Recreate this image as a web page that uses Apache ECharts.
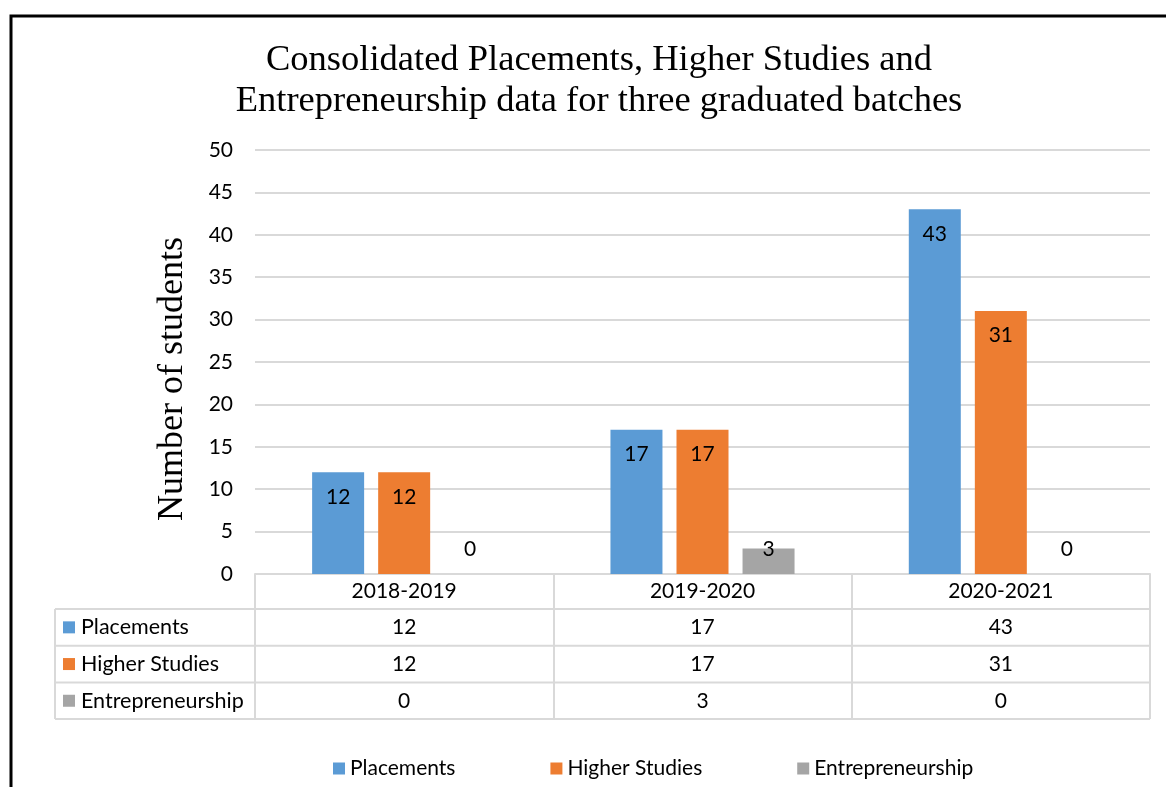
<!DOCTYPE html>
<html>
<head>
<meta charset="utf-8">
<script src="https://cdn.jsdelivr.net/npm/echarts@6/dist/echarts.min.js"></script>
<style>
  html, body { margin: 0; padding: 0; background: #fff; }
  #chart { width: 1166px; height: 787px; }
</style>
</head>
<body>
<div id="chart"></div>
<script>
var batches = ['2018-2019', '2019-2020', '2020-2021'];
var seriesNames = ['Placements', 'Higher Studies', 'Entrepreneurship'];
var placements = [12, 17, 43];
var higherStudies = [12, 17, 31];
var entrepreneurship = [0, 3, 0];
var yTicks = [0, 50, 5]; // min, max, interval

var colors = ['#5b9bd5', '#ed7d31', '#a5a5a5'];
var allValues = [placements, higherStudies, entrepreneurship];
var font = 'Lato, "Open Sans", sans-serif';
var fs = 21;
var gridLine = '#d9d9d9';

var myChart = echarts.init(document.getElementById('chart'));

var option = {
    color: colors,
    animation: false,
    title: {
        text: 'Consolidated Placements, Higher Studies and\nEntrepreneurship data for three graduated batches',
        left: 594,
        top: 35,
        textAlign: 'center',
        textStyle: {
            fontFamily: '"Liberation Serif", serif',
            fontWeight: 'normal',
            fontSize: 36.5,
            lineHeight: 41,
            color: '#000'
        }
    },
    legend: {
        data: seriesNames,
        left: 328,
        top: 753,
        itemWidth: 12,
        itemHeight: 12,
        itemGap: 95,
        icon: 'rect',
        textStyle: { fontFamily: font, fontSize: fs, color: '#000' }
    },
    grid: { left: 255, right: 16, top: 150, bottom: 213 },
    xAxis: {
        type: 'category',
        data: batches,
        axisLine: { lineStyle: { color: gridLine, width: 2 } },
        axisTick: { show: true, length: 145, lineStyle: { color: gridLine, width: 2 } },
        axisLabel: { fontFamily: font, fontSize: fs, color: '#000', margin: 7 }
    },
    yAxis: {
        type: 'value',
        min: yTicks[0],
        max: yTicks[1],
        interval: yTicks[2],
        axisLine: { show: false },
        axisTick: { show: false },
        axisLabel: { fontFamily: font, fontSize: fs, color: '#000', margin: 22 },
        splitLine: { lineStyle: { color: gridLine, width: 2 } }
    },
    series: seriesNames.map(function (name, i) {
        return {
            name: name,
            type: 'bar',
            data: allValues[i],
            barWidth: 52,
            barGap: '27%',
            label: {
                show: true,
                position: i === 2 ? 'insideBottom' : 'insideTop',
                distance: 14,
                fontFamily: font,
                fontSize: fs,
                color: '#000'
            }
        };
    })
};

myChart.setOption(option);

// data table below the plot
var rowTop = 609, rowH = 36.7, tableLeft = 55, tableRight = 1150;
var graphics = [];
for (var r = 0; r <= 3; r++) {
    var y = rowTop + r * rowH;
    graphics.push({
        type: 'line',
        shape: { x1: tableLeft, y1: y, x2: tableRight, y2: y },
        style: { stroke: gridLine, lineWidth: 2 }
    });
}
graphics.push({
    type: 'line',
    shape: { x1: tableLeft, y1: rowTop, x2: tableLeft, y2: rowTop + 3 * rowH },
    style: { stroke: gridLine, lineWidth: 2 }
});
seriesNames.forEach(function (name, i) {
    var cy = rowTop + i * rowH + rowH / 2;
    graphics.push({
        type: 'rect',
        shape: { x: 63, y: cy - 6, width: 12, height: 12 },
        style: { fill: colors[i] }
    });
    graphics.push({
        type: 'text',
        x: 81, y: cy,
        style: { text: name, fontFamily: font, fontSize: 21.5, fill: '#000', textVerticalAlign: 'middle' }
    });
    batches.forEach(function (b, j) {
        var cx = myChart.convertToPixel({ xAxisIndex: 0 }, b);
        graphics.push({
            type: 'text',
            x: cx, y: cy,
            style: { text: String(allValues[i][j]), fontFamily: font, fontSize: fs, fill: '#000', textAlign: 'center', textVerticalAlign: 'middle' }
        });
    });
});
// y axis title
graphics.push({
    type: 'text',
    x: 173, y: 379,
    rotation: Math.PI / 2,
    style: {
        text: 'Number of students',
        fontFamily: '"Liberation Serif", serif',
        fontSize: 36,
        fill: '#000',
        textAlign: 'center',
        textVerticalAlign: 'middle'
    }
});
// outer frame
graphics.push({
    type: 'polyline',
    shape: { points: [[11, 787], [11, 16], [1166, 16]] },
    style: { stroke: '#000', lineWidth: 3, fill: null }
});

myChart.setOption({ graphic: graphics });
</script>
</body>
</html>
